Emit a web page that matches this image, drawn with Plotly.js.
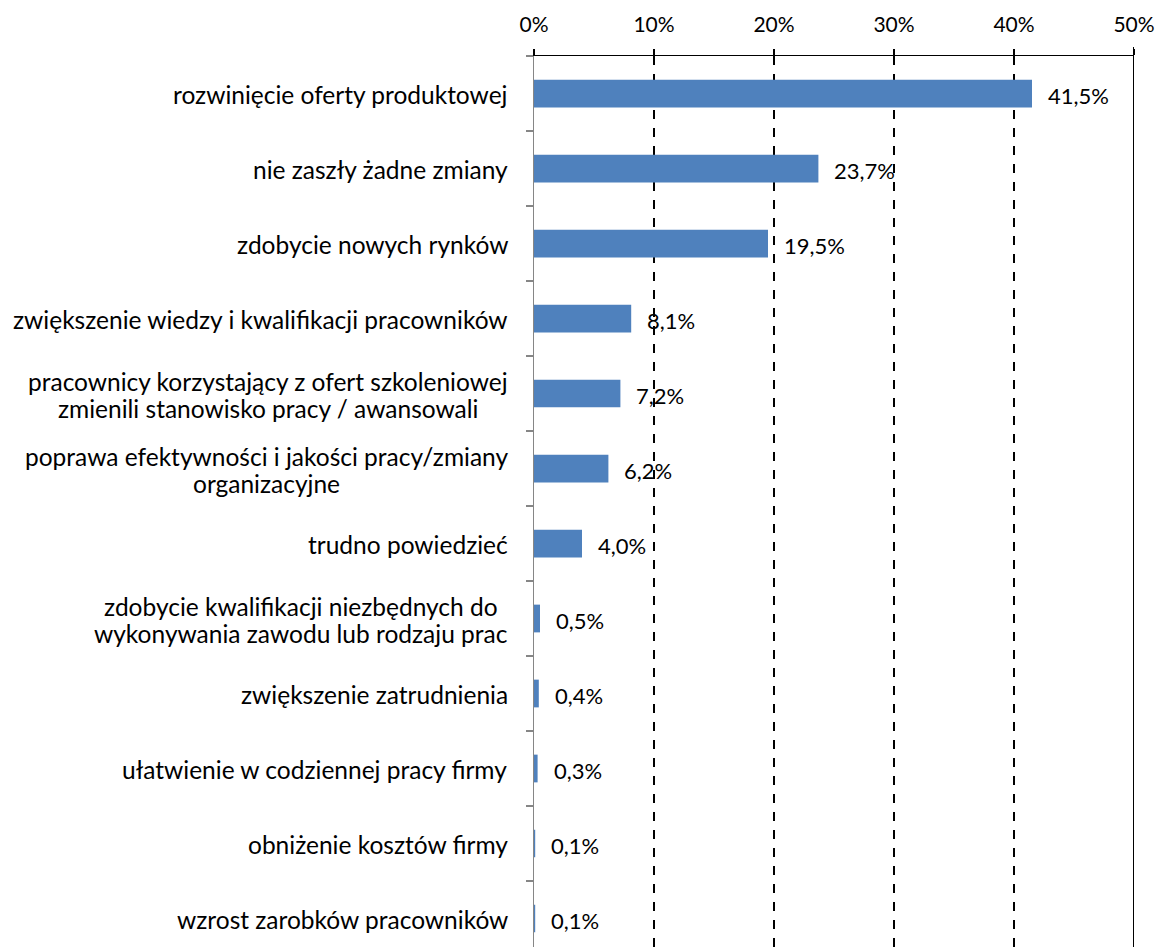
<!DOCTYPE html>
<html>
<head>
<meta charset="utf-8">
<script src="https://cdn.plot.ly/plotly-3.0.1.min.js"></script>
<style>html,body{margin:0;padding:0;background:#fff;}#chart{width:1161px;height:947px;}</style>
</head>
<body>
<div id="chart"></div>
<script>
const categories = [
  "rozwinięcie oferty produktowej",
  "nie zaszły żadne zmiany",
  "zdobycie nowych rynków",
  "zwiększenie wiedzy i kwalifikacji pracowników",
  "pracownicy korzystający z ofert szkoleniowej<br>zmienili stanowisko pracy / awansowali",
  "poprawa efektywności i jakości pracy/zmiany<br>organizacyjne",
  "trudno powiedzieć",
  "zdobycie kwalifikacji niezbędnych do<br>wykonywania zawodu lub rodzaju prac",
  "zwiększenie zatrudnienia",
  "ułatwienie w codziennej pracy firmy",
  "obniżenie kosztów firmy",
  "wzrost zarobków pracowników"
];
const values = [41.5, 23.7, 19.5, 8.1, 7.2, 6.2, 4.0, 0.5, 0.4, 0.3, 0.1, 0.1];
const tickValues = [0, 10, 20, 30, 40, 50];

const FONT = "Lato, 'Open Sans', sans-serif";
const CAT_SIZE = 24.5;
const TICK_SIZE = 21;
const LABEL_SIZE = 22;
const LINE_GAP = 27;
const LABEL_GAP = 26;

const ctx = document.createElement('canvas').getContext('2d');
ctx.font = CAT_SIZE + 'px Lato';

const trace = {
  type: 'bar',
  orientation: 'h',
  x: values,
  y: categories,
  width: 0.37,
  marker: {color: '#4F81BD', line: {width: 0}},
  hoverinfo: 'none'
};

const annotations = [];
categories.forEach((c, i) => {
  const lines = c.split('<br>');
  const maxW = Math.max(...lines.map(l => ctx.measureText(l).width));
  const n = lines.length;
  lines.forEach((line, j) => {
    annotations.push({
      xref: 'paper', yref: 'y', x: 0, y: c,
      text: line, showarrow: false, xanchor: 'center', yanchor: 'middle',
      xshift: -(LABEL_GAP + maxW / 2), yshift: ((n - 1) / 2 - j) * LINE_GAP - 1,
      font: {family: FONT, size: CAT_SIZE, color: '#000'}
    });
  });
  annotations.push({
    xref: 'x', yref: 'y', x: values[i], y: c,
    text: values[i].toFixed(1).replace('.', ',') + '%',
    showarrow: false, xanchor: 'left', yanchor: 'middle',
    xshift: 14, yshift: -2,
    font: {family: FONT, size: LABEL_SIZE, color: '#000'}
  });
});

const layout = {
  width: 1161, height: 947,
  margin: {l: 534, r: 27, t: 56, b: 0, pad: 0},
  paper_bgcolor: '#fff', plot_bgcolor: '#fff',
  showlegend: false,
  font: {family: FONT, color: '#000'},
  xaxis: {
    side: 'top', range: [0, 50], tickvals: tickValues,
    ticktext: tickValues.map(v => v + '%'),
    showgrid: true, gridcolor: '#000', gridwidth: 1.5, griddash: 'dash',
    zeroline: false,
    showline: true, linecolor: '#000', linewidth: 1.5,
    ticks: 'outside', ticklen: 6, tickcolor: '#000', tickwidth: 1.5,
    ticklabelstandoff: 8,
    tickfont: {family: FONT, size: TICK_SIZE, color: '#000'},
    fixedrange: true
  },
  yaxis: {
    type: 'category', range: [11.38, -0.5],
    showticklabels: false,
    ticks: 'outside', tickson: 'boundaries', ticklen: 7, tickcolor: '#868686', tickwidth: 1.5,
    showline: true, linecolor: '#868686', linewidth: 1.5,
    showgrid: false, zeroline: false, fixedrange: true
  },
  shapes: [{
    type: 'line', xref: 'x', yref: 'paper', x0: 50, x1: 50, y0: 0, y1: 1.01,
    line: {color: '#000', width: 2}
  }],
  annotations: annotations
};

Plotly.newPlot('chart', [trace], layout, {displayModeBar: false, staticPlot: true});
</script>
</body>
</html>
